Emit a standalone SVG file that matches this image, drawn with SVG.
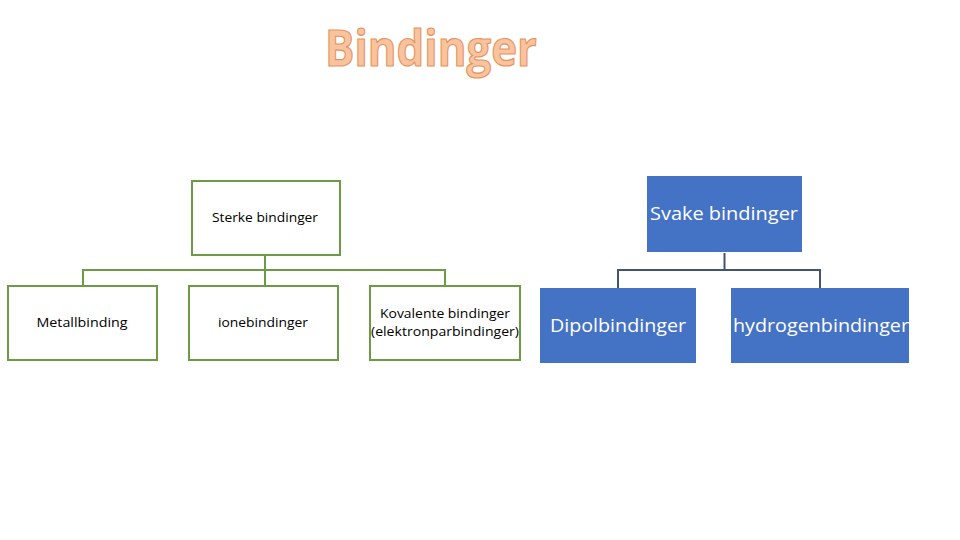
<svg xmlns="http://www.w3.org/2000/svg" width="960" height="540" viewBox="0 0 960 540">
<style>
.g rect{fill:#fff;stroke:#6F9A45;stroke-width:2}
.b rect{fill:#4472C4}
.st{font-family:"Open Sans","Liberation Sans",sans-serif;font-size:13px;fill:#000;text-anchor:middle}
.bt{font-family:"Open Sans","Liberation Sans",sans-serif;font-size:18px;fill:#fff;text-anchor:middle}
.title{font-family:"Open Sans","Liberation Sans",sans-serif;font-weight:bold;font-size:50px;fill:#F8C4A0;stroke:#E8925A;stroke-width:1.2;text-anchor:middle}
</style>
<text class="title" x="431" y="66" textLength="212" lengthAdjust="spacingAndGlyphs">Bindinger</text>
<g id="connectors" fill="none" stroke-width="2">
<path d="M265 255V270M83 286V270H445V286M265 270V286" stroke="#6F9A45"/>
<path d="M724.5 253V270M618 288V270H820V288" stroke="#44546A"/>
</g>
<g id="sterke" class="g"><rect x="192" y="181" width="148" height="74"/><text class="st" x="265" y="222" textLength="106" lengthAdjust="spacingAndGlyphs">Sterke bindinger</text></g>
<g id="metall" class="g"><rect x="8" y="286" width="149" height="74"/><text class="st" x="82" y="327" textLength="91" lengthAdjust="spacingAndGlyphs">Metallbinding</text></g>
<g id="ione" class="g"><rect x="189" y="286" width="149" height="74"/><text class="st" x="263" y="327" textLength="90" lengthAdjust="spacingAndGlyphs">ionebindinger</text></g>
<g id="kovalente" class="g"><rect x="370" y="286" width="150" height="74"/><text class="st" x="445" y="318" textLength="130" lengthAdjust="spacingAndGlyphs">Kovalente bindinger</text><text class="st" x="445" y="336" textLength="148" lengthAdjust="spacingAndGlyphs">(elektronparbindinger)</text></g>
<g id="svake" class="b"><rect x="647" y="176" width="155" height="76"/><text class="bt" x="724" y="220" textLength="148" lengthAdjust="spacingAndGlyphs">Svake bindinger</text></g>
<g id="dipol" class="b"><rect x="540" y="288" width="156" height="75"/><text class="bt" x="618" y="332" textLength="136" lengthAdjust="spacingAndGlyphs">Dipolbindinger</text></g>
<g id="hydrogen" class="b"><rect x="731" y="288" width="178" height="75"/><text class="bt" x="821" y="332" textLength="176" lengthAdjust="spacingAndGlyphs">hydrogenbindinger</text></g>
</svg>
